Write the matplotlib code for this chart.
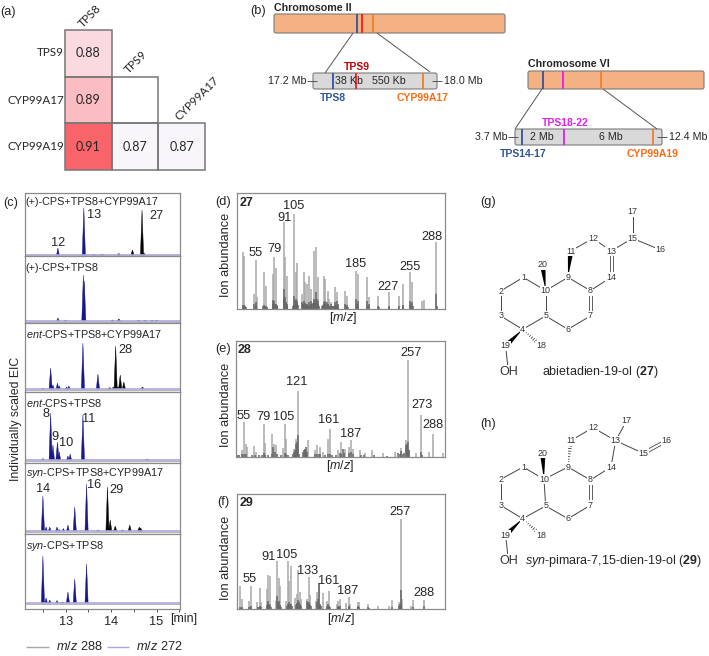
import numpy as np
import matplotlib
matplotlib.use("Agg")
import matplotlib.pyplot as plt
from matplotlib.colors import LinearSegmentedColormap
from matplotlib.patches import FancyBboxPatch, Rectangle, Polygon

plt.rcParams['font.family'] = ['Liberation Sans', 'DejaVu Sans']
plt.rcParams['mathtext.fontset'] = 'custom'
plt.rcParams['mathtext.rm'] = 'Liberation Sans'
plt.rcParams['mathtext.it'] = 'Liberation Sans:italic'
plt.rcParams['mathtext.bf'] = 'Liberation Sans:bold'

# ---- (a) correlation data
corr_cols = ['TPS8', 'TPS9', 'CYP99A17']
corr_rows = ['TPS9', 'CYP99A17', 'CYP99A19']
corr_vals = [[0.88, np.nan, np.nan],
             [0.89, np.nan, np.nan],
             [0.91, 0.87, 0.87]]
corr_shown = [[1, 0, 0], [1, 1, 0], [1, 1, 1]]

# ---- (c) chromatogram peaks: retention time [min], scaled height
p1_blue_rt = [12.83, 13.40, 13.62]
p1_blue_h = [7, 47, 0.8]
p1_black_rt = [13.8, 14.17, 14.47, 14.68, 14.72]
p1_black_h = [0.4, 1.5, 5, 45, 2]
p2_blue_rt = [12.83, 13.0, 13.39, 13.41]
p2_blue_h = [3, 1, 46, 40]
p2_black_rt = [14.03, 14.17, 14.6, 14.75, 14.9, 15.0]
p2_black_h = [1, 2, 0.7, 0.7, 0.7, 0.7]
p3_blue_rt = [12.5, 12.67, 12.72, 12.82, 12.86, 13.02, 13.07, 13.38, 13.71]
p3_blue_h = [0.8, 21, 4, 6, 3, 2, 3, 46, 15]
p3_black_rt = [13.97, 14.05, 14.1, 14.15, 14.2, 14.28, 14.69]
p3_black_h = [1.5, 2, 43, 2, 14, 7, 2]
p4_blue_rt = [12.5, 12.67, 12.72, 12.82, 12.86, 13.05, 13.10, 13.38]
p4_blue_h = [1.5, 47, 15, 18, 8, 4, 6, 45]
p4_black_rt = [14.79]
p4_black_h = [1]
p5_blue_rt = [12.5, 12.57, 12.65, 12.81, 12.86, 12.95, 13.05, 13.2, 13.46, 13.71]
p5_blue_h = [35, 4, 4, 4, 1.5, 2.5, 6, 24, 47, 1]
p5_black_rt = [13.92, 13.98, 14.09, 14.25, 14.41, 14.62, 14.65]
p5_black_h = [44, 11, 5, 1, 6, 4, 3]
p6_blue_rt = [12.5, 12.57, 12.65, 12.81, 12.93, 13.05, 13.2, 13.46]
p6_blue_h = [47, 5, 3, 2.5, 1, 11, 24, 39]
chrom_names = ['(+)-CPS+TPS8+CYP99A17', '(+)-CPS+TPS8',
               '$\\it{ent}$-CPS+TPS8+CYP99A17', '$\\it{ent}$-CPS+TPS8',
               '$\\it{syn}$-CPS+TPS8+CYP99A17', '$\\it{syn}$-CPS+TPS8']
rt_ticks = [13, 14, 15]
rt_minor = [12.5, 13.5, 14.5, 15.5]

# ---- (d) mass spectrum of 27
d_light_mz = [38, 40, 53, 55, 57, 66, 68, 77, 79, 81, 91, 93, 95, 105, 107, 109, 115, 117, 119, 121, 124, 127, 131,
              133, 135, 143, 145, 148, 150, 153, 157, 160, 171, 173, 185, 187, 199, 201, 213, 227, 241, 245, 255, 257,
              270, 273, 288]
d_light_h = [172, 158, 45, 146, 35, 110, 68, 105, 155, 122, 260, 155, 100, 285, 110, 137, 45, 110, 82, 75, 100, 60,
             175, 185, 95, 100, 90, 55, 30, 22, 65, 50, 55, 40, 115, 105, 95, 35, 40, 50, 40, 75, 110, 80, 25, 28, 200]
d_dark_mz = [38, 39, 40, 41, 43, 53, 55, 56, 65, 66, 67, 68, 69, 77, 78, 79, 80, 81, 82, 83, 91, 92, 93, 94, 95, 96,
             103, 104, 105, 106, 107, 108, 109, 110, 115, 116, 117, 118, 119, 120, 121, 122, 123, 124, 125, 126, 127,
             128, 129, 130, 131, 132, 133, 134, 135, 136, 137, 141, 142, 143, 144, 145, 146, 147, 148, 149, 150, 151,
             152, 153, 154, 155, 156, 157, 158, 159, 160, 161, 162, 171, 172, 173, 174, 185, 186, 187, 188, 199, 200,
             201, 213, 214, 227, 228, 241, 245, 246, 255, 256, 257, 258, 288, 289]
d_dark_h = [12, 6, 12, 10, 6, 15, 20, 8, 8, 12, 10, 10, 6, 28, 14, 25, 16, 15, 12, 8, 60, 30, 35, 20, 15, 8, 10, 12,
            40, 25, 30, 18, 25, 12, 20, 14, 25, 12, 18, 14, 15, 10, 12, 20, 10, 15, 25, 14, 18, 22, 30, 28, 50, 30, 25,
            14, 10, 8, 12, 22, 14, 25, 16, 20, 15, 12, 10, 10, 8, 15, 10, 8, 8, 20, 12, 12, 25, 14, 8, 15, 8, 12, 6,
            30, 16, 25, 10, 25, 10, 15, 10, 5, 10, 5, 10, 12, 6, 25, 14, 20, 8, 45, 10]
d_labels = ['55', '79', '91', '105', '185', '227', '255', '288']

# ---- (e) mass spectrum of 28
e_light_mz = [53, 55, 57, 59, 67, 70, 79, 81, 90, 92, 94, 103, 105, 107, 116, 119, 121, 130, 134, 142, 145, 149, 153,
              159, 161, 171, 175, 180, 185, 187, 190, 198, 204, 213, 227, 241, 249, 255, 257, 259, 267, 273, 283,
              288, 300]
e_light_h = [22, 105, 38, 30, 33, 15, 98, 42, 70, 38, 36, 28, 98, 55, 25, 55, 198, 25, 52, 20, 35, 30, 15, 55, 85, 20,
             45, 25, 30, 52, 25, 20, 12, 20, 12, 15, 28, 50, 290, 20, 12, 125, 15, 70, 12]
e_dark_mz = [47, 49, 53, 55, 57, 65, 69, 73, 77, 79, 81, 85, 89, 91, 93, 95, 101, 105, 107, 109, 115, 117, 118, 119,
             120, 121, 123, 128, 129, 130, 131, 132, 133, 143, 145, 147, 149, 155, 159, 161, 163, 169, 173, 175, 177,
             178, 185, 187, 189, 199, 203, 215, 231, 245, 247, 249, 251, 253, 255, 256, 257, 258, 273, 275]
e_dark_h = [6, 5, 8, 10, 8, 5, 5, 6, 6, 12, 6, 5, 8, 30, 14, 8, 5, 12, 8, 6, 10, 14, 20, 40, 45, 65, 8, 15, 20, 25, 18,
            30, 14, 8, 10, 8, 8, 6, 8, 10, 6, 6, 12, 10, 25, 12, 12, 15, 8, 6, 5, 5, 4, 12, 8, 18, 10, 12, 35, 40, 45,
            20, 14, 6]
e_labels = ['55', '79', '105', '121', '161', '187', '257', '273', '288']

# ---- (f) mass spectrum of 29
f_light_mz = [41, 43, 53, 55, 64, 67, 69, 77, 79, 81, 89, 91, 93, 95, 103, 105, 107, 109, 115, 117, 119, 121, 123, 131,
              133, 135, 143, 145, 147, 153, 158, 161, 171, 173, 175, 184, 187, 189, 199, 201, 213, 227, 241, 245, 255,
              257, 259, 271, 273, 288]
f_light_h = [68, 30, 25, 70, 22, 63, 22, 60, 103, 98, 25, 145, 93, 70, 25, 145, 85, 128, 32, 45, 118, 50, 30, 30, 95,
             42, 25, 52, 78, 48, 25, 55, 15, 25, 30, 18, 35, 15, 22, 20, 14, 8, 8, 28, 22, 270, 30, 8, 28, 28]
f_dark_mz = [41, 42, 43, 53, 54, 55, 56, 65, 66, 67, 68, 69, 77, 78, 79, 80, 81, 82, 91, 92, 93, 94, 95, 96, 104, 105,
             106, 107, 108, 109, 110, 116, 117, 118, 119, 120, 121, 122, 123, 131, 132, 133, 134, 135, 136, 145, 146,
             147, 148, 149, 150, 158, 159, 160, 161, 162, 172, 173, 174, 175, 187, 188, 199, 200, 201, 213, 214, 245,
             255, 256, 257, 258, 273, 288]
f_dark_h = [6, 4, 5, 5, 5, 8, 4, 5, 6, 8, 5, 6, 12, 14, 25, 16, 12, 6, 40, 22, 25, 12, 8, 5, 10, 15, 12, 20, 14, 14, 8,
            12, 18, 16, 28, 22, 15, 10, 8, 25, 18, 22, 16, 12, 8, 20, 30, 78, 16, 12, 8, 8, 14, 10, 10, 6, 6, 8, 6, 10,
            8, 5, 8, 5, 6, 5, 4, 5, 10, 14, 58, 12, 6, 8]
f_labels = ['55', '91', '105', '133', '161', '187', '257', '288']

# ---- (b) gene labels
gene_text = ['TPS8', 'TPS9', 'CYP99A17', 'TPS14-17', 'TPS18-22', 'CYP99A19']
region_text = ['17.2 Mb', '18.0 Mb', '38 Kb', '550 Kb', '3.7 Mb', '12.4 Mb', '2 Mb', '6 Mb']

W, H = 709, 656
fig = plt.figure(figsize=(W / 100, H / 100), dpi=100)
fig.patch.set_facecolor('white')
GREY = '#8a8a8a'
INK = '#262626'


def axpx(x0, y0, x1, y1):
    return fig.add_axes([x0 / W, 1 - y1 / H, (x1 - x0) / W, (y1 - y0) / H])


ov = fig.add_axes([0, 0, 1, 1], zorder=20)
ov.set_xlim(0, W)
ov.set_ylim(H, 0)
ov.axis('off')
ov.patch.set_alpha(0)


def T(x, y, s, size=9.2, ha='center', va='center', color=INK, **kw):
    return ov.text(x, y, s, fontsize=size, ha=ha, va=va, color=color, **kw)


def L(xs, ys, color=GREY, lw=0.8, **kw):
    ov.plot(xs, ys, color=color, lw=lw, solid_capstyle='butt', **kw)


# ---------- panel letters
for x, y, s in [(8, 12, '(a)'), (258, 11, '(b)'), (11, 203, '(c)'), (223, 202, '(d)'), (223, 349, '(e)'),
                (223, 502, '(f)'), (488, 202, '(g)'), (488, 424, '(h)')]:
    T(x, y, s, size=9.2)

# ---------- (a)
axa = axpx(65, 30, 205, 170)
cmap = LinearSegmentedColormap.from_list('c', ['#f8f6fb', '#fad0d6', '#fba9ae', '#f9646b'])
cmap.set_bad('white')
arr = np.ma.masked_invalid(np.array(corr_vals))
axa.pcolormesh(np.arange(4), np.arange(4), arr, cmap=cmap, vmin=0.87, vmax=0.91)
axa.set_xlim(0, 3)
axa.set_ylim(3, 0)
axa.axis('off')
axa.patch.set_alpha(0)
for i in range(3):
    for j in range(3):
        if corr_shown[i][j]:
            axa.add_patch(Rectangle((j, i), 1, 1, fill=False, ec='#777777', lw=1.1, clip_on=False))
            if not np.isnan(corr_vals[i][j]):
                axa.text(j + .5, i + .5, f'{corr_vals[i][j]:.2f}', ha='center', va='center',
                         fontsize=9, family='Lato', color=INK)
for (x, y), s in zip([(90, 16), (136, 62), (197, 98)], corr_cols):
    T(x, y, s, size=8.4, rotation=45, family='Lato')
for y, s in zip([53, 100, 147], corr_rows):
    T(64, y, s, size=8.4, ha='right', family='Lato')

# ---------- (b)
ORANGE = '#ff6a13'
BLUE = '#2f5597'
RED = '#ff1a1a'
MAG = '#e01fee'


def box(x0, y0, x1, y1, fc):
    ov.add_patch(FancyBboxPatch((x0 + 1.5, y0 + 1.5), x1 - x0 - 3, y1 - y0 - 3, boxstyle='round,pad=1.5,rounding_size=2',
                                fc=fc, ec='#7a7a7a', lw=0.8))


box(274, 14, 505, 33, '#f4b183')
box(313, 73, 437, 89, '#d9d9d9')
box(528, 71, 704, 89, '#f4b183')
box(515, 129, 662, 145, '#d9d9d9')
for x, c, (a, b) in [(357, BLUE, (14, 33)), (362, RED, (14, 33)), (373, '#f47b20', (14, 33)),
                     (333, BLUE, (73, 89)), (356, RED, (73, 89)), (423, '#f47b20', (73, 89)),
                     (543, BLUE, (71, 89)), (563, MAG, (71, 89)), (601, '#ed7d31', (71, 89)),
                     (522, BLUE, (129, 145)), (564, MAG, (129, 145)), (653, '#ed7d31', (129, 145))]:
    L([x, x], [a, b], color=c, lw=1.3)
for xs, ys in [((353, 325), (33, 73)), ((377, 430), (33, 72)), ((542, 515), (89, 129)), ((603, 657), (89, 129)),
               ((307, 317), (81, 81)), ((432, 442), (81, 81)), ((508, 518), (137, 137)), ((657, 667), (137, 137))]:
    L(xs, ys, color='#555555', lw=0.7)
T(274, 8, 'Chromosome II', size=7.7, ha='left', weight='bold')
T(528, 64, 'Chromosome VI', size=7.7, ha='left', weight='bold')
for (x, y, c), s in zip([(333, 98, BLUE), (357, 67, '#c00000'), (423, 98, ORANGE), (523, 154, BLUE),
                         (565, 123, MAG), (653, 154, ORANGE)], gene_text):
    T(x, y, s, size=7.5, color=c, weight='bold')
for (x, y, ha), s in zip([(306, 81, 'right'), (444, 81, 'left'), (349, 81, 'center'), (389, 81, 'center'),
                          (508, 137, 'right'), (669, 137, 'left'), (542, 137, 'center'), (611, 137, 'center')],
                         region_text):
    T(x, y, s, size=7.7, ha=ha)

# ---------- (c)
panels = [(193, 256, 255, p1_blue_rt, p1_blue_h, p1_black_rt, p1_black_h),
          (256, 323, 321, p2_blue_rt, p2_blue_h, p2_black_rt, p2_black_h),
          (323, 392, 389, p3_blue_rt, p3_blue_h, p3_black_rt, p3_black_h),
          (392, 463, 460, p4_blue_rt, p4_blue_h, p4_black_rt, p4_black_h),
          (463, 534, 531, p5_blue_rt, p5_blue_h, p5_black_rt, p5_black_h),
          (534, 609, 603, p6_blue_rt, p6_blue_h, [], [])]
for k, (top, bot, base, brt, bh, krt, kh) in enumerate(panels):
    ax = axpx(24.5, top, 180, bot)
    ax.set_xlim(12.095, 15.515)
    ax.set_ylim(base - bot, base - top)
    for rt, h in zip(brt, bh):
        w = 0.035 if h > 8 else 0.03
        ax.fill([rt - w, rt, rt + w], [0, h, 0], color='#17178a', lw=0.3)
    for rt, h in zip(krt, kh):
        ax.fill([rt - 0.035, rt, rt + 0.035], [0, h, 0], color='#050505', lw=0.3)
    ax.axhline(0.2, color='#aaa8dc', lw=1.2, zorder=1)
    ax.axhline(-0.8, color='#b5b5b5', lw=0.7, zorder=1)
    for s in ax.spines.values():
        s.set_color(GREY)
        s.set_linewidth(0.9)
    ax.set_yticks([])
    ax.set_xticks([])
    if k == 5:
        ax.set_xticks(rt_ticks)
        ax.set_xticks(rt_minor, minor=True)
        ax.tick_params(axis='x', which='both', length=2.5, width=0.7, color='#555555', labelsize=9.2,
                       labelcolor=INK, pad=2.5)
for y, s in zip([202, 268, 334, 403, 473, 546], chrom_names):
    T(25.5, y, s, size=7.8, ha='left')
for x, y, s in [(58, 243, '12'), (94, 215, '13'), (156, 216, '27'), (125, 350, '28'), (46, 414, '8'), (89, 419, '11'),
                (55, 437, '9'), (66, 443, '10'), (43, 489, '14'), (94, 485, '16'), (117, 490, '29')]:
    T(x, y, s)
T(184, 619, '[min]', size=9)
T(16, 419, 'Individually scaled EIC', size=8.8, rotation=90)
L([26, 49], [647, 647], color='#a8a8a8', lw=1.0)
L([107, 129], [647, 647], color='#aaa8dc', lw=1.0)
T(56, 647, '$\\it{m/z}$ 288', size=9.2, ha='left')
T(136, 647, '$\\it{m/z}$ 272', size=9.2, ha='left')

# ---------- (d)(e)(f)
spectra = [((236.7, 193, 445, 309), (30.4, 300), d_light_mz, d_light_h, d_dark_mz, d_dark_h, 348),
           ((236, 341, 445, 457), (45, 303), e_light_mz, e_light_h, e_dark_mz, e_dark_h, 347),
           ((237, 494, 445, 609), (36.6, 316.7), f_light_mz, f_light_h, f_dark_mz, f_dark_h, 346)]
for rect, xl, lm, lh, dm, dh, ymax in spectra:
    ax = axpx(*rect)
    ax.vlines(lm, 0, lh, color='#a8a8a8', lw=1.1)
    ax.vlines(dm, 0, dh, color='#666666', lw=1.1)
    ax.set_xlim(*xl)
    ax.set_ylim(0, ymax)
    ax.set_xticks([])
    ax.set_yticks([])
    for s in ax.spines.values():
        s.set_color(GREY)
        s.set_linewidth(0.9)
for (x, y), s in zip([(255.7, 253), (274, 249), (284, 218), (294, 206), (356, 264), (388, 287), (410, 267), (432, 237)],
                     d_labels):
    T(x, y, s)
for (x, y), s in zip([(244, 416), (263.7, 417), (284, 417), (297, 382), (329, 420), (351, 434), (411, 353), (422, 405),
                      (433, 425)], e_labels):
    T(x, y, s)
for (x, y), s in zip([(250, 579), (269, 557), (287, 555), (308, 571), (329, 581), (348, 591), (400, 512), (424, 593)],
                     f_labels):
    T(x, y, s)
for x, y, s in [(246, 203, '27'), (245, 350, '28'), (246, 503, '29')]:
    T(x, y, s, weight='bold', size=9)
for x, y in [(343, 318), (340, 466), (341, 619)]:
    T(x, y, '[$\\it{m/z}$]', size=9)
for y in [255, 405, 558]:
    T(226, y, 'Ion abundance', rotation=90, size=9.2)


# ---------- (g)(h) structures
def structure(atoms, ox, oy, bonds, doubles, solid, hashed, offsets=None):
    P = {k: (ox + v[0] / 3, oy + v[1] / 3) for k, v in atoms.items()}
    for a, b in bonds:
        L([P[a][0], P[b][0]], [P[a][1], P[b][1]], color='#444444', lw=0.7, zorder=2)
    for a, b in doubles:
        (x0, y0), (x1, y1) = P[a], P[b]
        d = np.array([x1 - x0, y1 - y0], float)
        n = np.array([-d[1], d[0]]) / np.hypot(*d) * 1.5
        L([x0 + n[0], x1 + n[0]], [y0 + n[1], y1 + n[1]], color='#444444', lw=0.6, zorder=2)
        L([x0 - n[0], x1 - n[0]], [y0 - n[1], y1 - n[1]], color='#444444', lw=0.6, zorder=2)
    for a, b in solid:
        (x0, y0), (x1, y1) = P[a], P[b]
        d = np.array([x1 - x0, y1 - y0], float)
        n = np.array([-d[1], d[0]]) / np.hypot(*d) * 2.4
        tip = np.array([x0, y0]) + d * 0.85
        ov.add_patch(Polygon([(x0, y0), tip + n, tip - n], fc='black', ec='none', zorder=4))
    for a, b in hashed:
        (x0, y0), (x1, y1) = P[a], P[b]
        d = np.array([x1 - x0, y1 - y0], float)
        n = np.array([-d[1], d[0]]) / np.hypot(*d)
        for f in np.linspace(0.1, 0.8, 8):
            c = np.array([x0, y0]) + d * f
            r = 2.6 * f
            L([c[0] - n[0] * r, c[0] + n[0] * r], [c[1] - n[1] * r, c[1] + n[1] * r], color='#222222', lw=0.5, zorder=3)
    for k, (x, y) in P.items():
        T(x, y, k, size=9 if k == 'OH' else 6.4, color='#333333', zorder=5,
          bbox=dict(fc='white', ec='none', pad=0.4))


g_atoms = {'1': (160, 262), '2': (92, 303), '3': (92, 378), '4': (158, 418), '5': (227, 378), '6': (294, 418),
           '7': (361, 378), '8': (361, 302), '9': (294, 262), '10': (227, 302), '11': (302, 183), '12': (369, 145),
           '13': (423, 183), '14': (423, 262), '15': (488, 145), '16': (572, 180), '17': (488, 65), '18': (213, 468),
           '19': (107, 468), '20': (218, 224), 'OH': (115, 545)}
g_bonds = [('1', '2'), ('2', '3'), ('3', '4'), ('4', '5'), ('5', '10'), ('10', '1'), ('5', '6'), ('6', '7'), ('8', '9'),
           ('9', '10'), ('8', '14'), ('13', '12'), ('12', '11'), ('13', '15'), ('15', '16'), ('15', '17'), ('19', 'OH')]
structure(g_atoms, 470, 190, g_bonds, [('7', '8'), ('13', '14')],
          [('9', '11'), ('10', '20'), ('4', '19')], [('4', '18')])
h_atoms = {'1': (160, 141), '2': (92, 178), '3': (92, 256), '4': (158, 296), '5': (227, 258), '6': (294, 296),
           '7': (361, 256), '8': (361, 180), '9': (294, 141), '10': (222, 178), '11': (302, 62), '12': (369, 23),
           '13': (437, 62), '14': (423, 141), '15': (520, 100), '16': (590, 62), '17': (470, 2), '18': (213, 346),
           '19': (107, 346), '20': (218, 100), 'OH': (115, 422)}
h_bonds = [('1', '2'), ('2', '3'), ('3', '4'), ('4', '5'), ('5', '10'), ('10', '1'), ('5', '6'), ('6', '7'), ('8', '9'),
           ('9', '10'), ('8', '14'), ('14', '13'), ('13', '12'), ('12', '11'), ('13', '15'), ('13', '17'), ('19', 'OH')]
structure(h_atoms, 470, 420, h_bonds, [('7', '8'), ('15', '16')],
          [('10', '20'), ('4', '19')], [('9', '11'), ('4', '18')])
T(542, 372, 'abietadien-19-ol ($\\mathbf{27}$)', size=9, ha='left')
T(525, 561, '$\\it{syn}$-pimara-7,15-dien-19-ol ($\\mathbf{29}$)', size=9, ha='left')

fig.savefig('out.png', dpi=100)
